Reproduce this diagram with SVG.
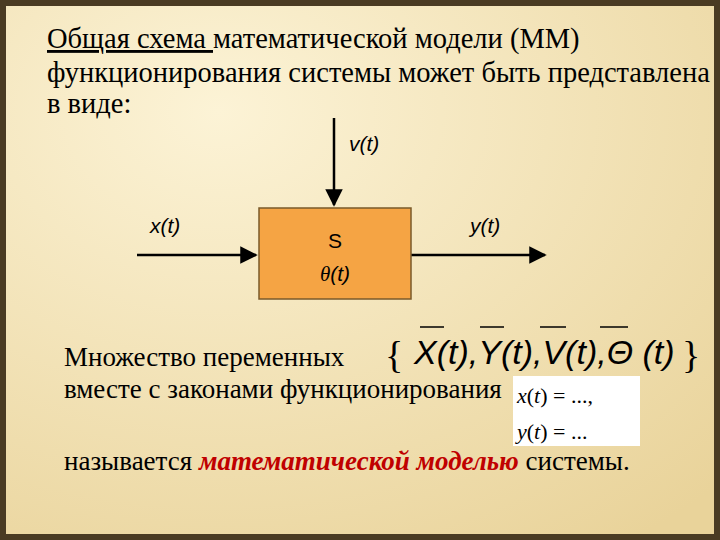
<svg xmlns="http://www.w3.org/2000/svg" width="720" height="540" viewBox="0 0 720 540">
<defs>
<radialGradient id="bg" cx="0.3" cy="0.2" r="1">
<stop offset="0" stop-color="#FCF3D6"/><stop offset="1" stop-color="#E9D39A"/>
</radialGradient>
<marker id="ar" viewBox="0 0 10 10" refX="9" refY="5" markerWidth="7" markerHeight="7" orient="auto"><path d="M0,0 L10,5 L0,10 Z" fill="#000"/></marker>
<style>
.t{font-family:"Liberation Serif","Times New Roman",serif;font-size:27px;fill:#000}
.h{font-family:"Liberation Serif","Times New Roman",serif;font-size:28.5px;fill:#000}
.a{font-family:"Liberation Sans",sans-serif;font-style:italic;font-size:21px;fill:#000}
.m{font-family:"Liberation Sans",sans-serif;font-style:italic;font-size:34px;fill:#000}
.f{font-family:"Liberation Serif",serif;font-size:22px;fill:#000}
.c{stroke:#000;stroke-width:2.5;fill:none;marker-end:url(#ar)}
</style>
</defs>
<rect width="720" height="540" fill="#4a3b23"/>
<rect x="6" y="6" width="708" height="528" fill="url(#bg)"/>
<text class="h" x="47" y="48"><tspan text-decoration="underline">Общая схема </tspan>математической модели (ММ)</text>
<text class="h" x="47" y="82">функционирования системы может быть представлена</text>
<text class="h" x="47" y="113">в виде:</text>
<g id="connectors">
<line class="c" x1="334" y1="118" x2="334" y2="205"/>
<line class="c" x1="137" y1="255" x2="256" y2="255"/>
<line class="c" x1="411" y1="255" x2="545" y2="255"/>
</g>
<g id="v"><text class="a" x="349" y="151">v(t)</text></g>
<g id="x"><text class="a" x="150" y="233">x(t)</text></g>
<g id="y"><text class="a" x="470" y="233">y(t)</text></g>
<g id="S">
<rect x="259" y="208" width="152" height="91" fill="#F5A444" stroke="#7a5a2a" stroke-width="1.5"/>
<text class="a" x="335" y="248" text-anchor="middle" style="font-style:normal">S</text>
<text class="a" x="335" y="281" text-anchor="middle"><tspan style="font-family:'Liberation Serif',serif">θ</tspan>(t)</text>
</g>
<text class="t" x="64" y="366">Множество переменных</text>
<text class="t" x="64" y="398">вместе с законами функционирования</text>
<text class="t" x="385" y="368" style="font-size:38px">{</text>
<text class="t" x="682" y="368" style="font-size:38px">}</text>
<text class="m" x="414" y="364">X(t),Y(t),V(t),Θ (t)</text>
<g stroke="#000" stroke-width="1.5">
<line x1="420" y1="327" x2="444" y2="327"/><line x1="480" y1="327" x2="504" y2="327"/><line x1="540" y1="327" x2="566" y2="327"/><line x1="600" y1="327" x2="628" y2="327"/>
</g>
<rect x="513" y="376" width="127" height="70" fill="#fff"/>
<text class="f" x="517" y="403"><tspan font-style="italic">x</tspan>(<tspan font-style="italic">t</tspan>) = ...,</text>
<text class="f" x="517" y="439"><tspan font-style="italic">y</tspan>(<tspan font-style="italic">t</tspan>) = ...</text>
<text class="t" x="64" y="470">называется <tspan fill="#C00000" font-weight="bold" font-style="italic">математической моделью</tspan>  системы.</text>
</svg>
